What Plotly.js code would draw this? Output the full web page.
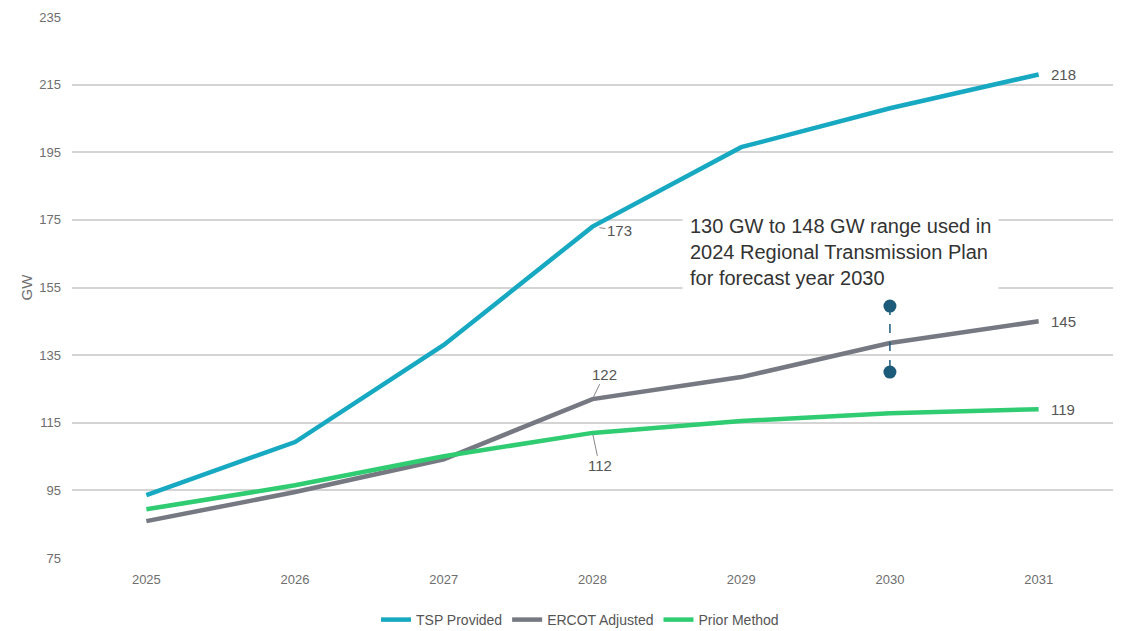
<!DOCTYPE html>
<html>
<head>
<meta charset="utf-8">
<script src="https://cdn.plot.ly/plotly-3.0.1.min.js"></script>
<style>html,body{margin:0;padding:0;background:#fff;}#chart{width:1122px;height:631px;}</style>
</head>
<body>
<div id="chart"></div>
<script>
const years = ["2025","2026","2027","2028","2029","2030","2031"];
const tspProvided = [93.6, 109.3, 138, 173, 196.5, 208, 218];
const ercotAdjusted = [85.9, 94.5, 104.2, 122, 128.5, 138.6, 145];
const priorMethod = [89.4, 96.5, 105.1, 112, 115.5, 117.8, 119];
const rtpRangeYear = ["2030", "2030"];
const rtpRange = [149.5, 130];
const yTicks = [75, 95, 115, 135, 155, 175, 195, 215, 235];

const FONT = "'Liberation Sans Narrow', 'Liberation Sans', Arial, sans-serif";
const GRAY = "#6e6e6e";
const LBL = {family: FONT, size: 15, color: "#555"};

const traces = [
  {x: years, y: tspProvided, name: "TSP Provided", type: "scatter", mode: "lines",
   line: {color: "#17a9c1", width: 4.5}},
  {x: years, y: ercotAdjusted, name: "ERCOT Adjusted", type: "scatter", mode: "lines",
   line: {color: "#767982", width: 4.5}},
  {x: years, y: priorMethod, name: "Prior Method", type: "scatter", mode: "lines",
   line: {color: "#2fcc72", width: 4.5}},
  {x: rtpRangeYear, y: rtpRange, type: "scatter", mode: "lines+markers", showlegend: false,
   line: {color: "#1d5b7a", width: 1.5, dash: "dash"},
   marker: {color: "#1d5b7a", size: 13, symbol: "circle"}}
];

const i28 = years.indexOf("2028");
const last = years.length - 1;
const annotations = [
  {x: i28, y: tspProvided[i28], text: String(tspProvided[i28]), showarrow: true, arrowhead: 0,
   arrowwidth: 1, arrowcolor: "#888", ax: 27, ay: 4, standoff: 7, font: LBL},
  {x: i28, y: ercotAdjusted[i28], text: String(ercotAdjusted[i28]), showarrow: true, arrowhead: 0,
   arrowwidth: 1, arrowcolor: "#888", ax: 12, ay: -25, standoff: 2, font: LBL},
  {x: i28, y: priorMethod[i28], text: String(priorMethod[i28]), showarrow: true, arrowhead: 0,
   arrowwidth: 1, arrowcolor: "#888", ax: 7, ay: 33, standoff: 2, font: LBL},
  {x: last, y: tspProvided[last], text: String(tspProvided[last]), showarrow: false,
   xanchor: "left", xshift: 10, font: LBL},
  {x: last, y: ercotAdjusted[last], text: String(ercotAdjusted[last]), showarrow: false,
   xanchor: "left", xshift: 10, font: LBL},
  {x: last, y: priorMethod[last], text: String(priorMethod[last]), showarrow: false,
   xanchor: "left", xshift: 10, font: LBL},
  {xref: "paper", yref: "paper", x: 0.586, y: 0.648, xanchor: "left", yanchor: "top",
   align: "left", showarrow: false, bgcolor: "#ffffff", borderpad: 7,
   text: "130 GW to 148 GW range used in<br>2024 Regional Transmission Plan<br>for forecast year 2030",
   font: {family: "'Liberation Sans', Arial, sans-serif", size: 20, color: "#333"}}
];

const layout = {
  width: 1122, height: 631,
  margin: {l: 72, r: 9, t: 17, b: 73, autoexpand: false},
  paper_bgcolor: "#fff", plot_bgcolor: "#fff",
  font: {family: FONT, color: GRAY, size: 13},
  xaxis: {type: "category", range: [-0.5, 6.5], showgrid: false, zeroline: false,
          showline: false, ticks: "", ticklabelstandoff: 12,
          tickfont: {family: FONT, size: 13, color: GRAY}},
  yaxis: {range: [75, 235], tickvals: yTicks, ticktext: yTicks.map(String),
          showgrid: true, gridcolor: "#d4d4d4", gridwidth: 2, zeroline: false,
          showline: false, ticks: "", ticklabelstandoff: 10,
          tickfont: {family: FONT, size: 13, color: GRAY},
          title: {text: "GW", standoff: 3, font: {family: FONT, size: 15, color: GRAY}}},
  legend: {orientation: "h", x: 0.488, xanchor: "center", y: -0.1146, yanchor: "middle",
           font: {family: FONT, size: 14, color: "#555"}, itemwidth: 30,
           traceorder: "normal"},
  annotations: annotations,
  showlegend: true
};

Plotly.newPlot("chart", traces, layout, {displayModeBar: false, staticPlot: true});
</script>
</body>
</html>
